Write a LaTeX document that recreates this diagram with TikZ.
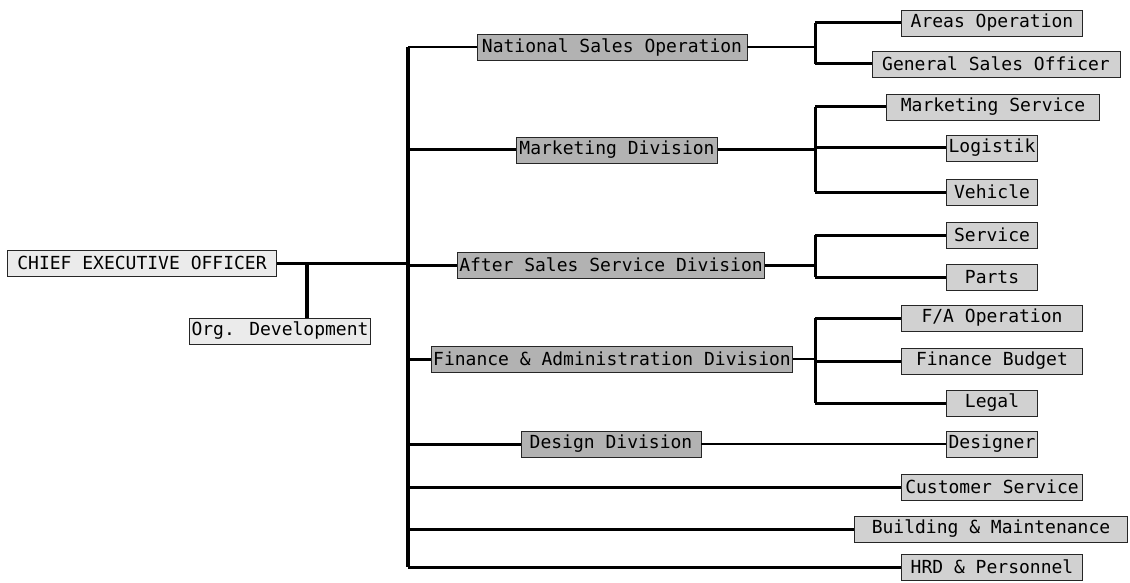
\documentclass[tikz,border=0pt]{standalone}
\usepackage{fontspec}
\setmainfont{DejaVu Sans Mono}
\begin{document}
\begin{tikzpicture}[x=1pt,y=-1pt,
  box/.style={draw=black!85, line width=0.9pt, inner xsep=2pt, inner ysep=2pt,
    minimum height=26pt, font=\fontsize{18}{19}\selectfont, text=black},
  topbox/.style={box, fill=black!8},
  divbox/.style={box, fill=black!30},
  leafbox/.style={box, fill=black!18},
  link/.style={line width=3pt, black},
  thinlink/.style={line width=2.2pt, black},
  bus/.style={line width=3.5pt, black}]
\useasboundingbox (0,0) rectangle (1130,583);

% executive level
\node[topbox, minimum width=269pt] (ceo) at (142,263) {CHIEF EXECUTIVE OFFICER};
\node[topbox, minimum width=179pt] (org) at (280,331) {Org. Development};

% divisions
\node[divbox, minimum width=270pt] (nso) at (612,47)  {National Sales Operation};
\node[divbox, minimum width=201pt] (mkt) at (617,150) {Marketing Division};
\node[divbox, minimum width=302pt] (asd) at (611,265) {After Sales Service Division};
\node[divbox, minimum width=360pt] (fad) at (612,359) {Finance \& Administration Division};
\node[divbox, minimum width=180pt] (dd)  at (611,444) {Design Division};

% departments
\node[leafbox, minimum width=181pt] (areas)    at (992,23)  {Areas Operation};
\node[leafbox, minimum width=248pt] (gso)      at (996,64)  {General Sales Officer};
\node[leafbox, minimum width=213pt] (ms)       at (993,107) {Marketing Service};
\node[leafbox, minimum width=91pt]  (log)      at (992,148) {Logistik};
\node[leafbox, minimum width=91pt]  (veh)      at (992,192) {Vehicle};
\node[leafbox, minimum width=91pt]  (svc)      at (992,235) {Service};
\node[leafbox, minimum width=91pt]  (parts)    at (992,277) {Parts};
\node[leafbox, minimum width=181pt] (fa)       at (992,318) {F/A Operation};
\node[leafbox, minimum width=181pt] (fb)       at (992,361) {Finance Budget};
\node[leafbox, minimum width=91pt]  (legal)    at (992,403) {Legal};
\node[leafbox, minimum width=91pt]  (designer) at (992,444) {Designer};
\node[leafbox, minimum width=181pt] (cs)       at (992,487) {Customer Service};
\node[leafbox, minimum width=273pt] (bm)       at (991,529) {Building \& Maintenance};
\node[leafbox, minimum width=181pt] (hrd)      at (992,567) {HRD \& Personnel};

% bus lines
\coordinate (bx) at (408,0);
\coordinate (sx) at (815,0);
\coordinate (oj) at (307,263);

\draw[bus] (nso.west -| bx) -- (hrd.west -| bx);
\draw[link] (ceo.east) -- (ceo.east -| bx);
\draw[bus] (oj) -- (oj |- org.north);

\draw[thinlink] (nso.west -| bx) -- (nso.west);
\foreach \n in {mkt,asd,fad,dd,cs,bm,hrd}
  \draw[link] (\n.west -| bx) -- (\n.west);

% national sales operation
\draw[thinlink] (nso.east) -- (nso.east -| sx);
\draw[link] (areas.west -| sx) -- (gso.west -| sx);
\draw[link] (areas.west -| sx) -- (areas.west);
\draw[link] (gso.west -| sx) -- (gso.west);

% marketing division
\draw[link] (mkt.east) -- (mkt.east -| sx);
\draw[link] (ms.west -| sx) -- (veh.west -| sx);
\foreach \n in {ms,log,veh}
  \draw[link] (\n.west -| sx) -- (\n.west);

% after sales service division
\draw[link] (asd.east) -- (asd.east -| sx);
\draw[link] (svc.west -| sx) -- (parts.west -| sx);
\foreach \n in {svc,parts}
  \draw[link] (\n.west -| sx) -- (\n.west);

% finance and administration division
\draw[thinlink] (fad.east) -- (fad.east -| sx);
\draw[link] (fa.west -| sx) -- (legal.west -| sx);
\foreach \n in {fa,fb,legal}
  \draw[link] (\n.west -| sx) -- (\n.west);

% design division
\draw[thinlink] (dd.east) -- (designer.west);
\end{tikzpicture}
\end{document}
